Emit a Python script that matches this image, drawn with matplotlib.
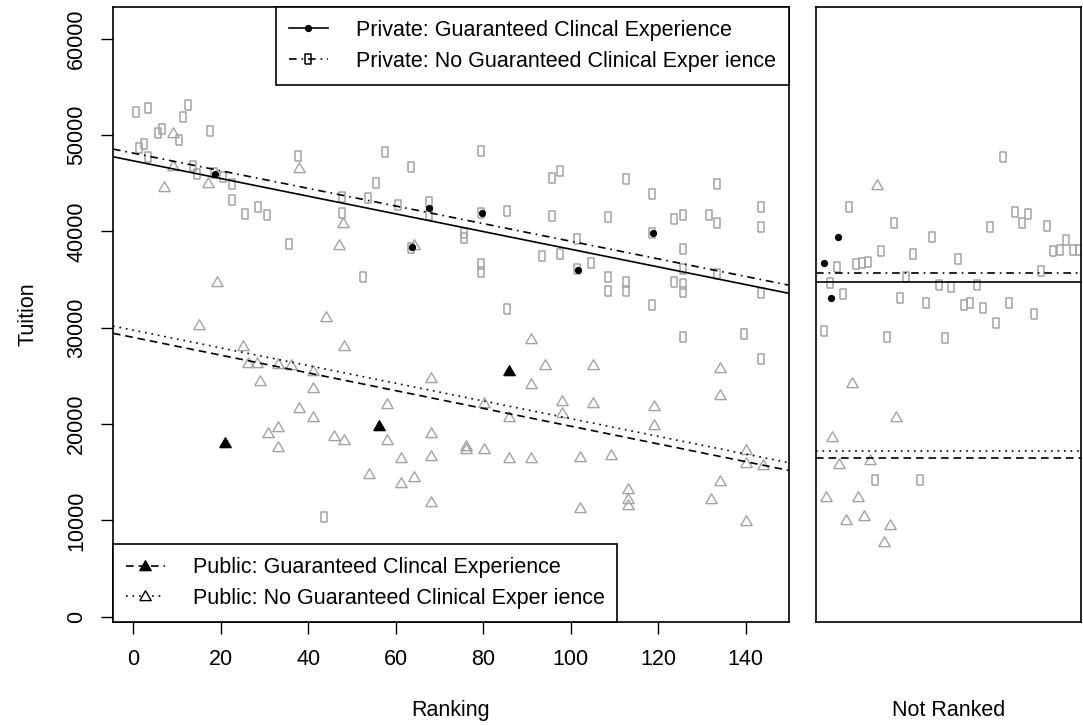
import matplotlib
matplotlib.use('Agg')
import matplotlib.pyplot as plt
from matplotlib.lines import Line2D
import numpy as np

plt.rcParams['font.family'] = ['Liberation Sans', 'DejaVu Sans']
plt.rcParams['font.size'] = 15.5
plt.rcParams['lines.scale_dashes'] = False

# ranked schools
priv_guar_rank = [18.7, 63.7, 67.7, 79.8, 101.7, 118.7]
priv_guar_tuit = [45920, 38400, 42390, 41870, 35990, 39800]

pub_guar_rank = [21.1, 56.1, 86.0]
pub_guar_tuit = [18000, 19790, 25500]

priv_no_rank = [0.6, 3.5, 12.6, 11.5, 17.5, 5.6, 6.6, 10.5, 2.5, 1.4, 3.5, 13.6, 14.6,
                18.5, 20.6, 22.5, 22.6, 25.6, 28.6, 30.6, 35.6, 37.6, 47.7, 47.7, 53.6,
                55.5, 57.6, 63.5, 60.5, 52.5, 67.5, 67.5, 63.5, 43.6,
                79.6, 95.6, 97.5, 112.6, 118.6, 133.5, 143.5, 143.5, 79.6, 85.5, 95.6,
                108.5, 123.6, 125.6, 131.7, 133.5, 75.6, 75.6, 79.6, 79.6, 101.5, 101.5,
                118.6, 125.6, 93.5, 97.5, 104.6, 108.5, 108.5, 112.6, 112.6, 123.6, 125.6,
                125.6, 125.6, 133.5, 143.5, 85.5, 118.6, 125.6, 139.5, 143.5]
priv_no_tuit = [52420, 52770, 53110, 51840, 50450, 50240, 50620, 49480, 49070, 48620, 47690, 46810, 45950,
                46020, 45610, 44910, 43250, 41800, 42500, 41700, 38660, 47850, 43600, 41930, 43430,
                44990, 48270, 46710, 42730, 35290, 43080, 41700, 38240, 10380,
                48340, 45510, 46300, 45430, 43840, 44910, 42560, 40420, 41930, 42140, 41620,
                41520, 41250, 41730, 41730, 40830, 39860, 39280, 36580, 35750, 39170, 36060,
                39860, 38140, 37440, 37650, 36750, 35290, 33840, 34770, 33840, 34770, 36060,
                34530, 33740, 35570, 33570, 31910, 32320, 29000, 29310, 26720]

pub_no_rank = [9.0, 9.2, 7.1, 17.2, 38.0, 48.0, 47.1, 64.1, 19.1, 15.1, 44.1,
               25.2, 48.1, 26.2, 28.2, 33.0, 36.1, 41.0, 29.1, 41.0, 68.0, 38.0, 41.0, 58.0,
               33.0, 30.9, 33.0, 46.0, 48.1, 58.0, 68.0, 68.0, 61.1, 64.1, 61.1, 54.0, 68.0,
               91.0, 94.1, 105.0, 91.0, 80.1, 86.0, 98.0, 98.0, 105.0, 119.1, 119.1, 134.1,
               134.1, 76.0, 76.0, 80.1, 86.0, 91.0, 102.1, 109.1, 113.1, 113.1, 113.1, 102.1,
               132.0, 134.1, 140.0, 140.0, 144.0, 140.0]
pub_no_tuit = [50270, 46810, 44630, 44990, 46540, 40830, 38580, 38580, 34770, 30250, 31080,
               28130, 28130, 26370, 26370, 26230, 26130, 25500, 24500, 23710, 24750, 21630, 20760, 22050,
               19660, 19040, 17650, 18760, 18340, 18340, 19100, 16710, 16440, 14530, 13910, 14810, 11940,
               28790, 26130, 26130, 24120, 22150, 20760, 22390, 21110, 22210, 21870, 19900, 25850,
               23010, 17750, 17410, 17410, 16470, 16470, 16610, 16780, 13220, 12190, 11590, 11310,
               12220, 14090, 17300, 15990, 15750, 9930]

# not ranked schools (position across the panel)
nr_priv_guar_pos = [8.3, 21.7, 14.7]
nr_priv_guar_tuit = [36750, 39440, 33050]

nr_pub_no_pos = [61.3, 35.7, 80.7, 16.3, 23.0, 54.7, 10.0, 42.3, 29.7, 48.3, 74.0, 68.0]
nr_pub_no_tuit = [44810, 24230, 20760, 18680, 15850, 16270, 12460, 12390, 10040, 10450, 9520, 7790]

nr_priv_no_pos = [33.3, 78.3, 116.7, 65.3, 20.7, 39.7, 45.7, 52.3, 97.3, 142.3, 14.0, 26.7,
                  90.7, 84.0, 123.3, 135.7, 161.7, 110.0, 148.3, 155.0, 167.3, 193.3, 180.7,
                  219.0, 187.3, 174.3, 200.0, 206.3, 213.0, 231.7, 225.7, 238.3, 244.7, 251.3,
                  258.0, 264.0, 8.0, 71.7, 129.7, 59.0, 104.0]
nr_priv_no_tuit = [42560, 40830, 39440, 37990, 36330, 36610, 36750, 36850, 37650, 37100, 34670, 33500,
                   35290, 33050, 34430, 34190, 34430, 32590, 32350, 32530, 32010, 32590, 30450,
                   31390, 47690, 40420, 42040, 40830, 41770, 40590, 35910, 37960, 38060, 39100,
                   38060, 38060, 29690, 29060, 28900, 14190, 14190]

# fitted lines: private guar, private no, public guar, public no
fit_intercept = [47330, 48130, 29000, 29750]
fit_slope = [-91.8, -91.5, -92.2, -91.9]
nr_means = [34770, 35640, 16440, 17200]

labels = ['Private: Guaranteed Clincal Experience',
          'Private: No Guaranteed Clinical Exper ience',
          'Public: Guaranteed Clincal Experience',
          'Public: No Guaranteed Clinical Exper ience']

styles = ['-', (0, (5.5, 3.5, 1.2, 3.5)), (0, (5.5, 3.5)), (0, (1.2, 3.5))]

grey = '#a3a3a3'
rect = [(-0.26, -0.5), (0.26, -0.5), (0.26, 0.5), (-0.26, 0.5), (-0.26, -0.5)]
tri = [(-0.5, -0.36), (0.5, -0.36), (0.0, 0.5), (-0.5, -0.36)]

W, H = 1083, 725
fig = plt.figure(figsize=(W / 100, H / 100), dpi=100)
ax = fig.add_axes([113 / W, 1 - 621.7 / H, (788.7 - 113) / W, (621.7 - 7) / H])
ax2 = fig.add_axes([816 / W, 1 - 621.7 / H, (1081 - 816) / W, (621.7 - 7) / H])

xlim = (-4.6, 149.8)
ylim = (-520, 63300)

# ranked panel
ax.plot(priv_no_rank, priv_no_tuit, ls='none', marker=rect, ms=7.5, mfc='none', mec=grey, mew=1.1)
ax.plot(pub_no_rank, pub_no_tuit, ls='none', marker=tri, ms=8.2, mfc='none', mec=grey, mew=1.0)
ax.plot(priv_guar_rank, priv_guar_tuit, ls='none', marker='o', ms=4.2, color='black')
ax.plot(pub_guar_rank, pub_guar_tuit, ls='none', marker=tri, ms=8.2, color='black')

xs = np.array(xlim)
for a, b, st in zip(fit_intercept, fit_slope, styles):
    ax.plot(xs, a + b * xs, color='black', lw=1.2, ls=st)

ax.set_xlim(xlim)
ax.set_ylim(ylim)
ax.set_xticks(range(0, 141, 20))
ax.set_yticks(range(0, 60001, 10000))
ax.tick_params(direction='out', length=8.5, width=1, color='black')
ax.tick_params(axis='x', pad=11)
ax.tick_params(axis='y', pad=10)
for t in ax.get_yticklabels():
    t.set_rotation(90)
    t.set_va('center')
ax.set_xlabel('Ranking')
ax.set_ylabel('Tuition')
ax.xaxis.set_label_coords(0.5, -0.127)
ax.yaxis.set_label_coords(-0.11, 0.5)

h = [Line2D([], [], color='black', lw=1.2, ls=styles[0], marker='o', ms=4.2),
     Line2D([], [], color='black', lw=1.2, ls=styles[1], marker=rect, ms=7.5, mfc='none', mew=1.1),
     Line2D([], [], color='black', lw=1.2, ls=styles[2], marker=tri, ms=8.2),
     Line2D([], [], color='black', lw=1.2, ls=styles[3], marker=tri, ms=8.2, mfc='white', mew=1.0)]

leg_kw = dict(frameon=True, fancybox=False, edgecolor='black', framealpha=1,
              borderaxespad=0, handlelength=1.8, handletextpad=1.3, borderpad=0.6,
              labelspacing=0.45, numpoints=1)
leg1 = ax.legend(h[:2], labels[:2], loc='upper right', bbox_to_anchor=(1, 1), **leg_kw)
leg1.get_frame().set_linewidth(1.2)
ax.add_artist(leg1)
leg2 = ax.legend(h[2:], labels[2:], loc='lower left', bbox_to_anchor=(0, 0), **leg_kw)
leg2.get_frame().set_linewidth(1.2)

# not ranked panel
ax2.plot(nr_priv_no_pos, nr_priv_no_tuit, ls='none', marker=rect, ms=7.5, mfc='none', mec=grey, mew=1.1)
ax2.plot(nr_pub_no_pos, nr_pub_no_tuit, ls='none', marker=tri, ms=8.2, mfc='none', mec=grey, mew=1.0)
ax2.plot(nr_priv_guar_pos, nr_priv_guar_tuit, ls='none', marker='o', ms=4.2, color='black')
for m, st in zip(nr_means, styles):
    ax2.axhline(m, color='black', lw=1.2, ls=st)
ax2.set_xlim(0, 266)
ax2.set_ylim(ylim)
ax2.set_xticks([])
ax2.set_yticks([])
ax2.set_xlabel('Not Ranked')
ax2.xaxis.set_label_coords(0.5, -0.127)

for a_ in (ax, ax2):
    for s in a_.spines.values():
        s.set_linewidth(1.2)

fig.savefig('out.png', dpi=100)
